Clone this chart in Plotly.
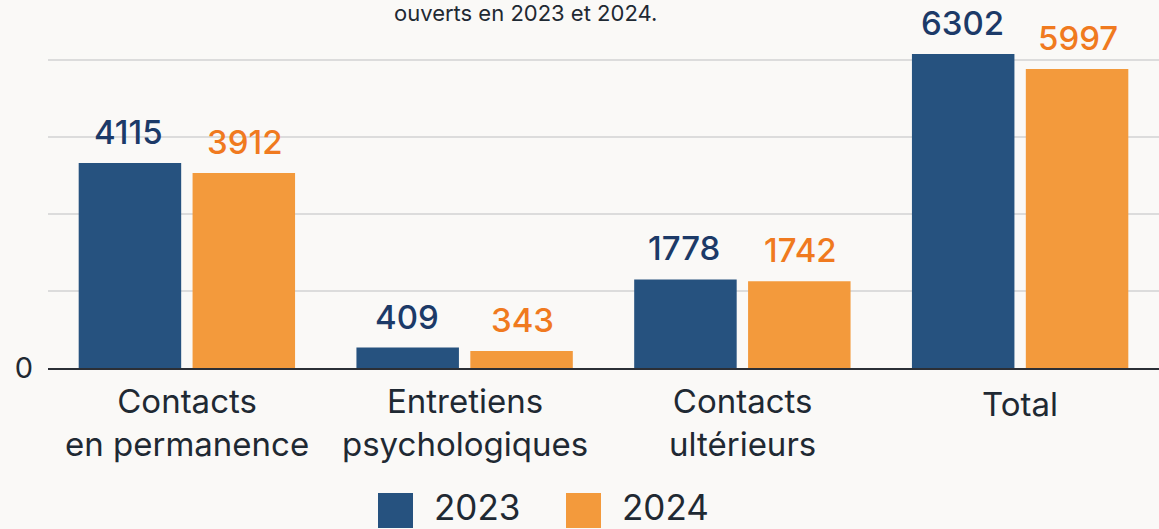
import plotly.graph_objects as go

categories = ["Contacts<br>en permanence", "Entretiens<br>psychologiques", "Contacts<br>ultérieurs", "Total"]
years = ["2023", "2024"]
values_2023 = [4115, 409, 1778, 6302]
values_2024 = [3912, 343, 1742, 5997]
title_text = "ouverts en 2023 et 2024."

BLUE = "#26527f"
ORANGE = "#f39a3c"
BLUE_TXT = "#1c3a68"
ORANGE_TXT = "#f07a1f"
DARK = "#1f2933"
BG = "#faf9f7"

W, H = 1159, 529
ML, MR, MT, MB = 48, 0, 20, 161
PW, PH = W - ML - MR, H - MT - MB

def px_x(p):
    return (p - ML) / PW

def px_y(p):
    return (H - MB - p) / PH

DTICK = 1545
YMAX = PH / 77 * DTICK

fig = go.Figure()
fig.add_trace(go.Bar(x=categories, y=values_2023, name=years[0], marker_color=BLUE,
                     marker_line_width=0, showlegend=False))
fig.add_trace(go.Bar(x=categories, y=values_2024, name=years[1], marker_color=ORANGE,
                     marker_line_width=0, showlegend=False))

annotations = []
for cat, v in zip(categories, values_2023):
    annotations.append(dict(x=cat, y=v, xref="x", yref="y", text=str(v), showarrow=False,
                            xshift=-58, yanchor="bottom", yshift=9,
                            font=dict(family="Inter", size=33, color=BLUE_TXT, weight=500)))
for cat, v in zip(categories, values_2024):
    annotations.append(dict(x=cat, y=v, xref="x", yref="y", text=str(v), showarrow=False,
                            xshift=58, yanchor="bottom", yshift=9,
                            font=dict(family="Inter", size=33, color=ORANGE_TXT, weight=500)))

# category labels
for cat in categories:
    n = len(cat.split("<br>"))
    ymid = 404 if n == 1 else 422
    annotations.append(dict(x=cat, y=px_y(ymid), xref="x", yref="paper", text=cat,
                            showarrow=False, yanchor="middle",
                            font=dict(family="Inter", size=33, color=DARK)))

# title (cropped at the top in the reference; kept fully visible here)
annotations.append(dict(x=px_x(525), y=px_y(13), xref="paper", yref="paper", text=title_text,
                        showarrow=False, yanchor="middle",
                        font=dict(family="Inter", size=22, color=DARK)))

# legend (manual, large swatches)
shapes = []
legend_items = [(years[0], BLUE, 378), (years[1], ORANGE, 566)]
for label, col, x0 in legend_items:
    shapes.append(dict(type="rect", xref="paper", yref="paper",
                       x0=px_x(x0), x1=px_x(x0 + 35), y0=px_y(493), y1=px_y(528),
                       fillcolor=col, line=dict(width=0), layer="above"))
    annotations.append(dict(x=px_x(x0 + 54), y=px_y(507), xref="paper", yref="paper", text=label,
                            showarrow=False, xanchor="left", yanchor="middle",
                            font=dict(family="Inter", size=35, color=DARK)))

fig.update_layout(
    width=W, height=H,
    margin=dict(l=ML, r=MR, t=MT, b=MB),
    paper_bgcolor=BG, plot_bgcolor=BG,
    barmode="group", bargap=0.18, bargroupgap=0.1,
    showlegend=False,
    annotations=annotations, shapes=shapes,
    xaxis=dict(showticklabels=False, showgrid=False, showline=True, linecolor="#2b2f36",
               linewidth=2, ticks="", fixedrange=True),
    yaxis=dict(range=[0, YMAX], tickvals=[DTICK * i for i in range(5)],
               ticktext=["0", "", "", "", ""], showgrid=True, gridcolor="#dcdcdc", gridwidth=1.5,
               zeroline=False, showline=False, ticks="", ticklabelstandoff=14,
               tickfont=dict(family="Inter", size=29, color=DARK)),
)

fig.write_html("out.html", config={"displayModeBar": False},
               post_script="document.body.style.margin='0';document.body.style.background='%s';" % BG)
